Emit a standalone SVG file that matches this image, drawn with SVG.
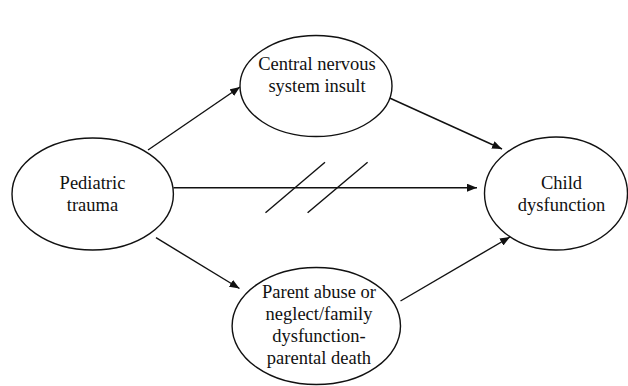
<svg xmlns="http://www.w3.org/2000/svg" width="628" height="386" viewBox="0 0 628 386">
<defs>
<marker id="ah" viewBox="0 0 10 8" refX="10" refY="4" markerWidth="10" markerHeight="8" markerUnits="userSpaceOnUse" orient="auto">
<path d="M0,0 L10,4 L0,8 z" fill="#111"/>
</marker>
<style>
.n{fill:#fff;stroke:#111;stroke-width:1.4}
.t{font-family:'Liberation Serif','DejaVu Serif',serif;font-size:18.5px;fill:#111;text-anchor:middle}
.c{stroke:#111;stroke-width:1.4;fill:none}
</style>
</defs>
<rect width="628" height="386" fill="#fff"/>
<g id="connectors">
<line class="c" x1="148" y1="150" x2="240" y2="87" marker-end="url(#ah)"/>
<line class="c" x1="388.5" y1="97.5" x2="502" y2="149" marker-end="url(#ah)"/>
<line class="c" x1="173.5" y1="187.7" x2="477" y2="187.7" marker-end="url(#ah)"/>
<line class="c" x1="156" y1="237.7" x2="239.5" y2="288.5" marker-end="url(#ah)"/>
<line class="c" x1="400.5" y1="301" x2="510" y2="237" marker-end="url(#ah)"/>
<line class="c" x1="265.5" y1="212.7" x2="325" y2="162.3"/>
<line class="c" x1="307.6" y1="212.7" x2="367.6" y2="162.3"/>
</g>
<g id="central">
<ellipse class="n" cx="316" cy="86" rx="76" ry="50.5"/>
<text class="t" x="317" y="70">Central nervous</text>
<text class="t" x="317" y="92">system insult</text>
</g>
<g id="pediatric">
<ellipse class="n" cx="92.7" cy="194" rx="80.7" ry="56"/>
<text class="t" x="92.5" y="189">Pediatric</text>
<text class="t" x="92.5" y="211">trauma</text>
</g>
<g id="child">
<ellipse class="n" cx="556" cy="193.5" rx="71.5" ry="56.5"/>
<text class="t" x="561.5" y="189">Child</text>
<text class="t" x="561.5" y="211">dysfunction</text>
</g>
<g id="parent">
<ellipse class="n" cx="316.3" cy="326" rx="84.2" ry="58.5"/>
<text class="t" x="319" y="298">Parent abuse or</text>
<text class="t" x="319" y="320">neglect/family</text>
<text class="t" x="319" y="342">dysfunction-</text>
<text class="t" x="319" y="363.5">parental death</text>
</g>
</svg>
